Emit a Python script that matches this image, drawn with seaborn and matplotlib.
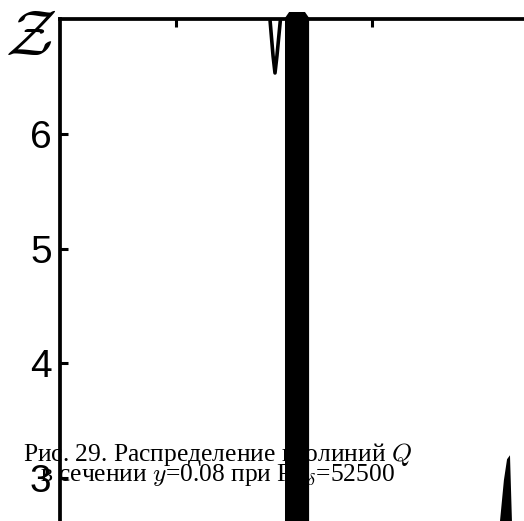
import matplotlib
matplotlib.use("Agg")
import matplotlib.pyplot as plt
import seaborn as sns
import numpy as np

# Isoline fragments in the section (x along the span, Z vertical)
band_x = [1.556, 1.556, 1.577, 1.658, 1.679, 1.679]
band_y = [2.0, 7.009, 7.061, 7.061, 7.009, 2.0]

loop_x = [1.480, 1.495, 1.505, 1.515, 1.532]
loop_y = [6.983, 6.680, 6.530, 6.680, 6.983]

edge_x = [2.689, 2.704, 2.714, 2.716, 2.640, 2.653, 2.673]
edge_y = [3.165, 3.200, 2.626, 2.0, 2.0, 2.626, 2.983]

z_ticks = [3, 4, 5, 6]
x_ticks = [1, 2]

caption_1 = "Рис. 29. Распределение изолиний $Q$"
caption_2 = "в сечении $y$=0.08 при Re$_\\delta$=52500"

sns.set_theme(style="white")
plt.rcParams["font.family"] = ["Liberation Sans", "DejaVu Sans"]
plt.rcParams["mathtext.fontset"] = "cm"

fig = plt.figure(figsize=(5.24, 5.21), dpi=100)
W, H = 524, 521
left_px, top_px, right_px, bottom_px = 60, 19, 568, 593
ax = fig.add_axes([left_px / W, (H - bottom_px) / H,
                   (right_px - left_px) / W, (bottom_px - top_px) / H])
ax.set_xlim(0.408, 3.0)
ax.set_ylim(2.0, 7.0)
ax.set_facecolor("white")

ax.fill(band_x, band_y, color="black", lw=0, zorder=3, clip_on=False)
ax.fill(edge_x, edge_y, color="black", lw=0, zorder=3)
sns.lineplot(x=loop_x, y=loop_y, sort=False, estimator=None, color="black",
             lw=2.6, ax=ax, zorder=3)

for s in ["right", "bottom"]:
    ax.spines[s].set_visible(False)
for s in ["left", "top"]:
    ax.spines[s].set_visible(True)
    ax.spines[s].set_color("black")
    ax.spines[s].set_linewidth(2.7)
    ax.spines[s].set_zorder(2.5)

ax.set_yticks(z_ticks)
ax.set_yticklabels([str(t) for t in z_ticks])
ax.set_xticks(x_ticks)
ax.xaxis.tick_top()
ax.tick_params(axis="x", top=True, bottom=False, labeltop=False, labelbottom=False,
               direction="in", length=6, width=2.2, color="black")
ax.tick_params(axis="y", left=True, direction="in", length=6, width=2.2,
               color="black", labelsize=28, pad=6, labelcolor="black")

ax.set_ylabel(r"$\mathcal{Z}$", rotation=0, fontsize=46, color="black",
              ha="center", va="center")
ax.yaxis.set_label_coords(-0.058, 0.967)

for txt, yb in [(caption_1, 461), (caption_2, 481)]:
    ax.text(217.5 / W, (H - yb) / H, txt, transform=fig.transFigure,
            ha="center", va="baseline", fontsize=18.4, color="black",
            family=["Liberation Serif", "DejaVu Serif"], zorder=0.5, clip_on=False)

fig.savefig("out.png", dpi=100, facecolor="white")
